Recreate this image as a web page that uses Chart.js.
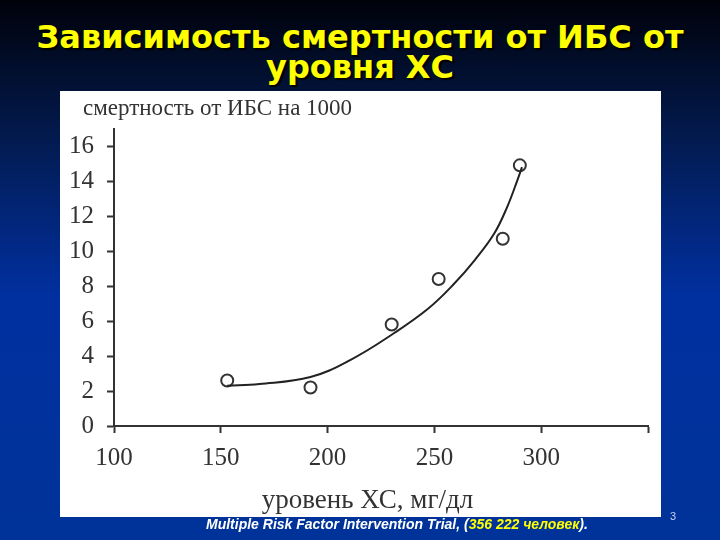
<!DOCTYPE html>
<html>
<head>
<meta charset="utf-8">
<script src="https://cdn.jsdelivr.net/npm/chart.js@4"></script>
<style>
  html, body { margin: 0; padding: 0; }
  body {
    width: 720px; height: 540px; position: relative; overflow: hidden;
    background: linear-gradient(to bottom, #00020a 0%, #031a4e 25%, #0030a0 55%, #003399 100%);
    font-family: "DejaVu Sans", sans-serif;
  }
  #title {
    position: absolute; left: 0; top: 22px; width: 720px;
    text-align: center; color: #ffff00; font-weight: bold;
    font-size: 32px; line-height: 30px;
    text-shadow: 2px 2px 1px #000;
  }
  #panel {
    position: absolute; left: 60px; top: 91px; width: 601px; height: 426px;
    background: #fff;
  }
  #foot {
    position: absolute; left: 206px; top: 516px;
    font-family: "Liberation Sans", sans-serif; font-weight: bold; font-style: italic;
    font-size: 14px; color: #fff;
  }
  #foot span { color: #ffff00; }
  #num {
    position: absolute; left: 670px; top: 510px;
    font-family: "Liberation Sans", sans-serif; font-size: 11px; color: #c8d0f0;
  }
</style>
</head>
<body>
<div id="title">Зависимость смертности от ИБС от<br>уровня ХС</div>
<div id="panel"><canvas id="myChart" width="601" height="426"></canvas></div>
<div id="foot">Multiple Risk Factor Intervention Trial, (<span>356 222 человек</span>).</div>
<div id="num">3</div>
<script>
// observed points
const cholesterol = [153, 192, 230, 252, 282, 290];
const mortality = [2.6, 2.2, 5.8, 8.4, 10.7, 14.9];

// fitted curve
const curveX = [153, 168, 192, 211, 231, 247, 259, 269, 278, 284, 289, 291];
const curveY = [2.3, 2.4, 2.8, 3.8, 5.3, 6.7, 8.1, 9.5, 11.0, 12.5, 14.1, 14.8];

const xTicks = [100, 150, 200, 250, 300, 350];
const yTicks = [0, 2, 4, 6, 8, 10, 12, 14, 16];

const ink = '#333';
const serif = "'Liberation Serif', 'DejaVu Serif', serif";

const data = {
  datasets: [{
    type: 'line',
    data: curveX.map((x, i) => ({x: x, y: curveY[i]})),
    borderColor: '#222',
    borderWidth: 2,
    pointRadius: 0,
    tension: 0.4,
    fill: false
  }, {
    type: 'scatter',
    data: cholesterol.map((x, i) => ({x: x, y: mortality[i]})),
    borderColor: ink,
    backgroundColor: 'rgba(255,255,255,0)',
    borderWidth: 2,
    pointRadius: 6
  }]
};

const config = {
  type: 'scatter',
  data,
  options: {
    responsive: false,
    animation: false,
    layout: { padding: { left: 0, right: 13, top: 0, bottom: 0 } },
    plugins: {
      legend: { display: false },
      tooltip: { enabled: false },
      title: {
        display: true,
        // leading spaces push the heading off the left edge like in the scan
        text: '    смертность от ИБС на 1000',
        align: 'start',
        color: ink,
        font: { family: serif, size: 23, weight: 'normal' },
        padding: { top: 4, bottom: 6 }
      }
    },
    scales: {
      x: {
        type: 'linear',
        min: 100, max: 350,
        afterBuildTicks: s => { s.ticks = xTicks.map(v => ({value: v})); },
        afterFit: s => { s.height = 91; },
        border: { color: ink, width: 2 },
        grid: { drawOnChartArea: false, drawTicks: true, tickLength: 7, tickColor: ink, tickWidth: 2 },
        ticks: {
          color: ink, padding: 10,
          font: { family: serif, size: 25 },
          callback: v => v === 350 ? '' : v
        },
        title: {
          display: true,
          text: 'уровень ХС, мг/дл    ',
          color: ink,
          font: { family: serif, size: 27 },
          padding: { top: 0, bottom: 0 }
        }
      },
      y: {
        type: 'linear',
        min: 0, max: 17,
        afterBuildTicks: s => { s.ticks = yTicks.map(v => ({value: v})); },
        afterFit: s => { s.width = 54; },
        border: { color: ink, width: 2 },
        grid: { drawOnChartArea: false, drawTicks: true, tickLength: 7, tickColor: ink, tickWidth: 2 },
        ticks: {
          color: ink, padding: 13,
          font: { family: serif, size: 25 }
        }
      }
    }
  }
};

var myChart = new Chart(document.getElementById('myChart'), config);
</script>
</body>
</html>
